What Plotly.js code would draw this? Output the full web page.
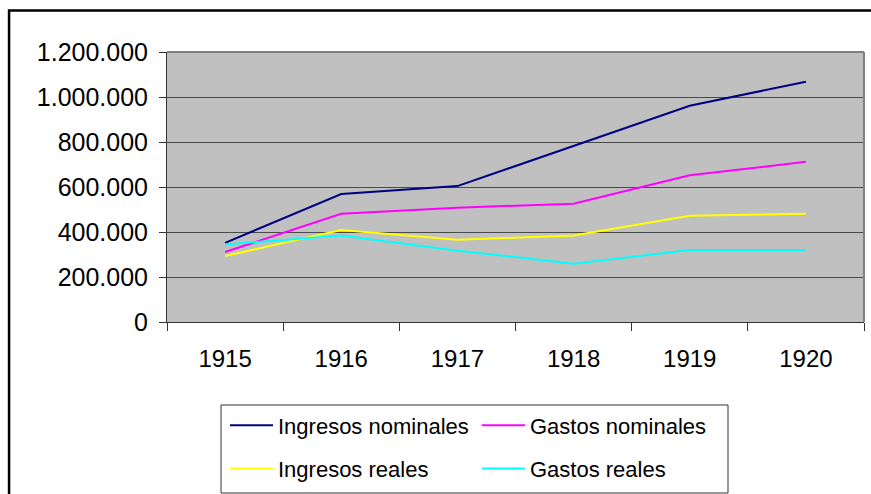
<!DOCTYPE html>
<html>
<head>
<meta charset="utf-8">
<script src="https://cdn.plot.ly/plotly-3.0.1.min.js"></script>
<style>html,body{margin:0;padding:0;background:#fff;}#chart{width:871px;height:494px;}</style>
</head>
<body>
<div id="chart"></div>
<script>
const years = ['1915', '1916', '1917', '1918', '1919', '1920'];
const ingresosNominales = [352000, 569000, 604000, 782000, 961000, 1068000];
const gastosNominales = [311000, 481000, 508000, 526000, 652000, 712000];
const ingresosReales = [293000, 409000, 366000, 384000, 472000, 481000];
const gastosReales = [345000, 384000, 317000, 259000, 320000, 320000];
const seriesNames = ['Ingresos nominales', 'Gastos nominales', 'Ingresos reales', 'Gastos reales'];
const seriesColors = ['#000080', '#FF00FF', '#FFFF00', '#00FFFF'];
const yTicks = [0, 200000, 400000, 600000, 800000, 1000000, 1200000];

const allSeries = [ingresosNominales, gastosNominales, ingresosReales, gastosReales];
const legendIds = ['legend', 'legend', 'legend2', 'legend2'];
const traces = allSeries.map((vals, i) => ({
  type: 'scatter', mode: 'lines', x: years, y: vals, name: seriesNames[i],
  line: {color: seriesColors[i], width: 2}, legend: legendIds[i], hoverinfo: 'skip'
}));

const fam = 'Arial, "Liberation Sans", sans-serif';
const xFont = {family: fam, size: 24, color: '#000'};
const yFont = {family: fam, size: 25, color: '#000'};
const legFont = {family: fam, size: 22, color: '#000'};
const legBase = {
  orientation: 'h', x: 0.0832, xanchor: 'left', yanchor: 'middle',
  entrywidth: 194, entrywidthmode: 'pixels', itemwidth: 43, font: legFont,
  bgcolor: 'rgba(0,0,0,0)', borderwidth: 0, itemclick: false, itemdoubleclick: false
};
const layout = {
  width: 871, height: 494,
  margin: {l: 167, r: 7, t: 52, b: 172, autoexpand: false},
  paper_bgcolor: '#ffffff', plot_bgcolor: '#C0C0C0',
  separators: ',.',
  font: xFont,
  showlegend: true,
  xaxis: {
    type: 'category', range: [-0.5, 5.5], tickson: 'boundaries',
    showgrid: false, zeroline: false, showline: true, linecolor: '#333', linewidth: 1,
    ticks: 'outside', ticklen: 8, tickcolor: '#333', tickwidth: 1,
    tickfont: xFont, ticklabelstandoff: 15, fixedrange: true, automargin: false
  },
  yaxis: {
    range: [0, 1200000], tickvals: yTicks, tickformat: ',d',
    showgrid: true, gridcolor: '#4a4a4a', gridwidth: 1, zeroline: false,
    showline: true, linecolor: '#333', linewidth: 1,
    ticks: 'outside', ticklen: 7, tickcolor: '#333', tickwidth: 1,
    tickfont: yFont, ticklabelstandoff: 6, fixedrange: true, automargin: false
  },
  legend: Object.assign({}, legBase, {y: -0.383}),
  legend2: Object.assign({}, legBase, {y: -0.543}),
  shapes: [
    {type: 'line', xref: 'paper', yref: 'paper', x0: 0, x1: 1, y0: 1, y1: 1, line: {color: '#808080', width: 2}},
    {type: 'line', xref: 'paper', yref: 'paper', x0: 1, x1: 1, y0: 0, y1: 1, line: {color: '#808080', width: 2}},
    {type: 'rect', xref: 'paper', yref: 'paper', x0: 0.0775, x1: 0.8049, y0: -0.6333, y1: -0.3074, line: {color: '#333', width: 1}},
    {type: 'rect', xref: 'paper', yref: 'paper', x0: -0.2266, x1: 1.03, y0: -0.7, y1: 1.1537, line: {color: '#000', width: 2.5}}
  ]
};
Plotly.newPlot('chart', traces, layout, {staticPlot: true, displayModeBar: false});
</script>
</body>
</html>
